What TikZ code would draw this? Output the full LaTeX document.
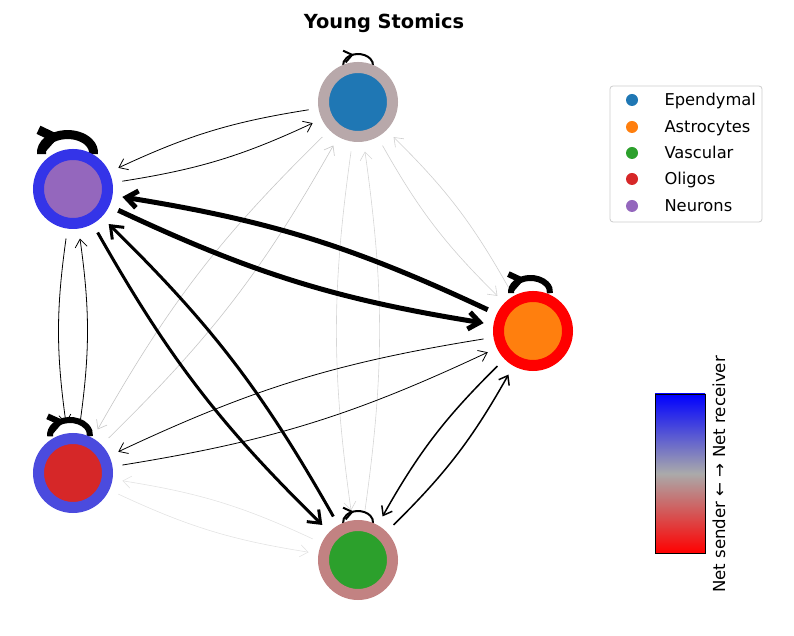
\documentclass[tikz,border=0pt]{standalone}
\usepackage{fontspec}
\setmainfont{DejaVu Sans}
\usetikzlibrary{arrows.meta,backgrounds,decorations.markings}
\definecolor{ependymal}{HTML}{1F77B4}
\definecolor{astrocytes}{HTML}{FF7F0E}
\definecolor{vascular}{HTML}{2CA02C}
\definecolor{oligos}{HTML}{D62728}
\definecolor{neurons}{HTML}{9467BD}
\definecolor{ringepe}{RGB}{184,168,170}
\definecolor{ringneu}{RGB}{52,52,232}
\definecolor{ringast}{RGB}{255,0,0}
\definecolor{ringoli}{RGB}{75,75,222}
\definecolor{ringvas}{RGB}{194,130,130}
\definecolor{cbmid}{RGB}{170,170,170}
\colorlet{legendgray}{black!20}
\tikzset{
  cell/.style = {circle, inner sep=0pt, minimum size=69pt, line width=11pt, outer sep=15.5pt},
  flow/.style = {-{Straight Barb[length=8pt,width=12pt]}, bend right=8, line width=0.8pt},
  heavy/.style = {-{Straight Barb[length=11pt,width=17pt]}, bend right=8},
  selfloop/.style = {postaction={decorate}, decoration={markings,
      mark=at position 0.4 with {\arrow{Straight Barb[length=8pt,width=12pt,scale=#1]}}}},
  selfloop/.default = 1,
  dot/.style = {circle, inner sep=0pt, minimum size=12pt},
  entry/.style = {anchor=base west, font=\fontsize{16.3}{19}\selectfont}
}

\begin{document}
\begin{tikzpicture}[x=1pt,y=1pt]
    \useasboundingbox (0,0) rectangle (794,636);
    \node[anchor=base, font=\bfseries\fontsize{19.4}{23}\selectfont] (title) at (384,607) {Young Stomics};

    \node[cell, draw=ringepe, fill=ependymal] (epe) at (358,534) {};
    \node[cell, draw=ringneu, fill=neurons] (neu) at (73,447) {};
    \node[cell, draw=ringast, fill=astrocytes] (ast) at (533,305) {};
    \node[cell, draw=ringoli, fill=oligos] (oli) at (73,163) {};
    \node[cell, draw=ringvas, fill=vascular] (vas) at (358,76) {};

    \begin{scope}[on background layer]
    \draw[flow, line width=0.6pt, draw=gray!45] (epe) to (oli);
    \draw[flow, line width=0.6pt, draw=gray!45] (oli) to (epe);
    \draw[flow, line width=0.6pt, draw=gray!38] (epe) to (ast);
    \draw[flow, line width=0.6pt, draw=gray!38] (ast) to (epe);
    \draw[flow, line width=0.6pt, draw=gray!32] (epe) to (vas);
    \draw[flow, line width=0.6pt, draw=gray!32] (vas) to (epe);
    \draw[flow, line width=0.6pt, draw=gray!22] (oli) to (vas);
    \draw[flow, line width=0.6pt, draw=gray!22] (vas) to (oli);
    \draw[flow] (epe) to (neu);
    \draw[flow] (neu) to (epe);
    \draw[flow] (neu) to (oli);
    \draw[flow] (oli) to (neu);
    \draw[flow] (ast) to (oli);
    \draw[flow] (oli) to (ast);
    \draw[flow, line width=1.5pt] (ast) to (vas);
    \draw[flow, line width=1.5pt] (vas) to (ast);
    \draw[heavy, line width=3pt] (neu) to (vas);
    \draw[heavy, line width=3pt] (vas) to (neu);
    \draw[heavy, line width=5pt] (neu) to (ast);
    \draw[heavy, line width=5pt] (ast) to (neu);

    \draw[selfloop, line width=2pt] ([shift={(-14.9,36)}]epe.center) arc[start angle=185, end angle=-5, x radius=15, y radius=11];
    \draw[selfloop, line width=2pt] ([shift={(-14.9,37)}]vas.center) arc[start angle=185, end angle=-5, x radius=15, y radius=11];
    \draw[selfloop=1.3, line width=6pt] ([shift={(-21.9,37.8)}]ast.center) arc[start angle=185, end angle=-5, x radius=19.5, y radius=14];
    \draw[selfloop=1.3, line width=6pt] ([shift={(-22.9,36.7)}]oli.center) arc[start angle=185, end angle=-5, x radius=20, y radius=15];
    \draw[selfloop=1.6, line width=9pt] ([shift={(-31.4,34.9)}]neu.center) arc[start angle=185, end angle=-5, x radius=26, y radius=18];
    \end{scope}

    \node[draw=legendgray, rounded corners=3pt, line width=0.8pt, minimum width=152pt, minimum height=136pt] (legend) at (686,482) {};
    \node[dot, fill=ependymal] (dotepe) at (632,536) {};
    \node[dot, fill=astrocytes] (dotast) at (632,509) {};
    \node[dot, fill=vascular] (dotvas) at (632,483) {};
    \node[dot, fill=oligos] (dotoli) at (632,457) {};
    \node[dot, fill=neurons] (dotneu) at (632,430) {};
    \node[entry] (labepe) at (661,530) {Ependymal};
    \node[entry] (labast) at (661,503) {Astrocytes};
    \node[entry] (labvas) at (661,477) {Vascular};
    \node[entry] (laboli) at (661,451) {Oligos};
    \node[entry] (labneu) at (661,424) {Neurons};

    \node[draw, line width=0.8pt, minimum width=50pt, minimum height=159pt, inner sep=0pt,
          top color=blue, bottom color=red, middle color=cbmid] (cbar) at (680,162.5) {};
    \node[anchor=base, rotate=90, font=\fontsize{16.6}{19}\selectfont] (cblabel) at (725,161.5) {Net sender ← → Net receiver};
\end{tikzpicture}
\end{document}
